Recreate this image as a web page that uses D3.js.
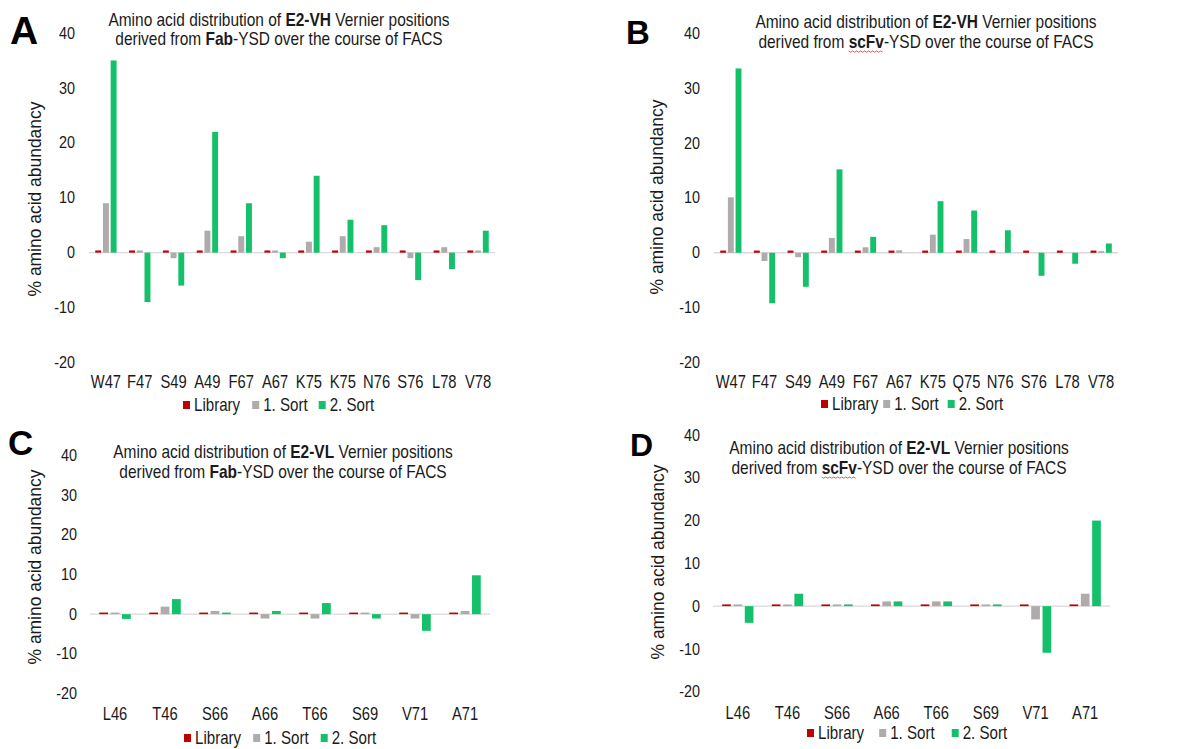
<!DOCTYPE html>
<html>
<head>
<meta charset="utf-8">
<script src="https://d3js.org/d3.v7.min.js"></script>
<style>
  body { margin: 0; background: #fff; }
  text { font-family: "Liberation Sans", Arial, sans-serif; fill: #1a1a1a; }
</style>
</head>
<body>
<script>
// series + colours
var seriesNames = ["Library", "1. Sort", "2. Sort"];
var seriesColors = ["#C00000", "#AFABAB", "#14C16A"];

// categories
var vhFabCats = ["W47", "F47", "S49", "A49", "F67", "A67", "K75", "K75", "N76", "S76", "L78", "V78"];
var vhScfvCats = ["W47", "F47", "S49", "A49", "F67", "A67", "K75", "Q75", "N76", "S76", "L78", "V78"];
var vlCats = ["L46", "T46", "S66", "A66", "T66", "S69", "V71", "A71"];

// y ticks
var yTicks = [-20, -10, 0, 10, 20, 30, 40];

// panel A: E2-VH, Fab-YSD
var vhFabLibrary = [0.4, 0.4, 0.4, 0.4, 0.4, 0.4, 0.4, 0.4, 0.4, 0.4, 0.4, 0.4];
var vhFabSort1 = [9, 0.4, -1, 4, 3, 0.4, 2, 3, 1, -1, 1, 0.4];
var vhFabSort2 = [35, -9, -6, 22, 9, -1, 14, 6, 5, -5, -3, 4];

// panel B: E2-VH, scFv-YSD
var vhScfvLibrary = [0.4, 0.4, 0.4, 0.4, 0.4, 0.4, 0.4, 0.4, 0.4, 0.4, 0.4, 0.4];
var vhScfvSort1 = [10.1, -1.5, -0.8, 2.7, 1.0, 0.45, 3.3, 2.5, 0, 0, 0, 0.3];
var vhScfvSort2 = [33.6, -9.2, -6.2, 15.2, 2.9, 0, 9.4, 7.7, 4.1, -4.2, -2.0, 1.7];

// panel C: E2-VL, Fab-YSD
var vlFabLibrary = [0.4, 0.4, 0.4, 0.4, 0.4, 0.4, 0.4, 0.4];
var vlFabSort1 = [0.4, 1.9, 0.8, -1.1, -1.1, 0.4, -1.1, 0.8];
var vlFabSort2 = [-1.2, 3.8, 0.4, 0.8, 2.8, -1.1, -4.2, 9.8];

// panel D: E2-VL, scFv-YSD
var vlScfvLibrary = [0.4, 0.4, 0.4, 0.4, 0.4, 0.4, 0.4, 0.4];
var vlScfvSort1 = [0.4, 0.4, 0.4, 1.1, 1.1, 0.4, -3.1, 2.9];
var vlScfvSort2 = [-3.9, 2.9, 0.4, 1.1, 1.1, 0.4, -10.9, 20];

var svg = d3.select("body").append("svg")
    .attr("width", 1204)
    .attr("height", 749);

// the source figure uses a narrow face; squeeze text horizontally about its x
var narrow = 0.84;
function squeeze(sel, x, sx) {
  sel.attr("transform", "translate(" + (x * (1 - sx)) + ",0) scale(" + sx + ",1)");
}

// layout of each panel (pixels)
var panels = [
  { letter: "A", letterX: 10, letterY: 44, letterSize: 39,
    chain: "E2-VH", sys: "Fab", squiggle: false,
    cats: vhFabCats, series: [vhFabLibrary, vhFabSort1, vhFabSort2],
    x0: 89, x1: 495, yBottom: 362.5, yTop: 33,
    tickRight: 75, catY: 388, titleX: 279, titleY: 26, titleGap: 19,
    axisTitleX: 41, axisTitleY: 199,
    legendY: 405, legendX: 183, legendGaps: [12, 11] },
  { letter: "B", letterX: 626, letterY: 44, letterSize: 33,
    chain: "E2-VH", sys: "scFv", squiggle: true,
    cats: vhScfvCats, series: [vhScfvLibrary, vhScfvSort1, vhScfvSort2],
    x0: 714, x1: 1118, yBottom: 362.5, yTop: 33.3,
    tickRight: 700, catY: 388, titleX: 926, titleY: 28, titleGap: 20,
    axisTitleX: 663, axisTitleY: 197,
    legendY: 404, legendX: 821, legendGaps: [5, 9] },
  { letter: "C", letterX: 8, letterY: 455, letterSize: 35,
    chain: "E2-VL", sys: "Fab", squiggle: false,
    cats: vlCats, series: [vlFabLibrary, vlFabSort1, vlFabSort2],
    x0: 90, x1: 490, yBottom: 693.5, yTop: 455.5,
    tickRight: 77, catY: 720, titleX: 283, titleY: 458, titleGap: 20,
    axisTitleX: 41, axisTitleY: 567,
    legendY: 738, legendX: 184, legendGaps: [12, 12] },
  { letter: "D", letterX: 630, letterY: 456, letterSize: 32,
    chain: "E2-VL", sys: "scFv", squiggle: true,
    cats: vlCats, series: [vlScfvLibrary, vlScfvSort1, vlScfvSort2],
    x0: 713, x1: 1110, yBottom: 691.7, yTop: 435,
    tickRight: 700, catY: 719, titleX: 899, titleY: 454, titleGap: 20,
    axisTitleX: 664, axisTitleY: 562,
    legendY: 733, legendX: 807, legendGaps: [15, 17] }
];

panels.forEach(drawPanel);

function drawPanel(p) {
  var g = svg.append("g");

  var x = d3.scaleBand().domain(d3.range(p.cats.length)).range([p.x0, p.x1]);
  var y = d3.scaleLinear().domain([-20, 40]).range([p.yBottom, p.yTop]);

  // sub-band for the three series
  var bw = x.bandwidth();
  var barW = bw * 0.175, pitch = bw * 0.228;

  // zero line
  g.append("line")
      .attr("x1", p.x0).attr("x2", p.x1)
      .attr("y1", y(0)).attr("y2", y(0))
      .attr("stroke", "#D9D9D9").attr("stroke-width", 1.3);

  // bars
  p.series.forEach(function (vals, s) {
    g.selectAll(null)
      .data(vals)
      .enter().append("rect")
      .attr("x", function (d, i) { return x(i) + bw / 2 + (s - 1) * pitch - barW / 2; })
      .attr("y", function (d) { return y(Math.max(0, d)); })
      .attr("width", barW)
      .attr("height", function (d) { return Math.abs(y(d) - y(0)); })
      .attr("fill", seriesColors[s]);
  });

  // y tick labels
  g.selectAll(null)
    .data(yTicks)
    .enter().append("text")
    .attr("x", p.tickRight)
    .attr("y", function (d) { return y(d); })
    .attr("dy", "0.35em")
    .attr("text-anchor", "end")
    .style("font-size", "16px")
    .each(function () { squeeze(d3.select(this), p.tickRight, 0.9); })
    .text(function (d) { return d; });

  // category labels
  g.selectAll(null)
    .data(p.cats)
    .enter().append("text")
    .attr("x", function (d, i) { return x(i) + bw / 2; })
    .attr("y", p.catY)
    .attr("text-anchor", "middle")
    .style("font-size", "18px")
    .each(function (d, i) { squeeze(d3.select(this), x(i) + bw / 2, 0.82); })
    .text(function (d) { return d; });

  // y axis title
  g.append("text")
    .attr("transform", "translate(" + p.axisTitleX + "," + p.axisTitleY + ") rotate(-90) scale(0.97,1)")
    .attr("text-anchor", "middle")
    .style("font-size", "18px")
    .text("% amino acid abundancy");

  // panel letter
  g.append("text")
    .attr("x", p.letterX).attr("y", p.letterY)
    .style("font-weight", "bold")
    .style("font-size", p.letterSize + "px")
    .style("fill", "#000")
    .text(p.letter);

  // two-line title
  var t1 = g.append("text")
    .attr("x", p.titleX).attr("y", p.titleY)
    .attr("text-anchor", "middle")
    .style("font-size", "18px");
  squeeze(t1, p.titleX, 0.86);
  t1.append("tspan").text("Amino acid distribution of ");
  t1.append("tspan").style("font-weight", "bold").text(p.chain);
  t1.append("tspan").text(" Vernier positions");

  var t2 = g.append("text")
    .attr("x", p.titleX).attr("y", p.titleY + p.titleGap)
    .attr("text-anchor", "middle")
    .style("font-size", "18px");
  squeeze(t2, p.titleX, 0.86);
  t2.append("tspan").text("derived from ");
  var sysSpan = t2.append("tspan").style("font-weight", "bold").text(p.sys);
  t2.append("tspan").text("-YSD over the course of FACS");

  // red spell-check squiggle under "scFv"
  if (p.squiggle) {
    var node = sysSpan.node();
    var sx = p.titleX * (1 - 0.86) + 0.86 * node.getStartPositionOfChar(0).x;
    var len = node.getComputedTextLength() * 0.86;
    var sy = p.titleY + p.titleGap + 3;
    var pts = d3.range(0, Math.floor(len / 2) + 1).map(function (k) {
      return [sx + k * 2, sy + (k % 2 ? 1.2 : 0)];
    });
    g.append("path")
      .attr("d", d3.line()(pts))
      .attr("fill", "none")
      .attr("stroke", "#E03030")
      .attr("stroke-width", 0.8);
  }

  // legend
  var lx = p.legendX;
  seriesNames.forEach(function (name, s) {
    g.append("rect")
      .attr("x", lx).attr("y", p.legendY - 4)
      .attr("width", 7).attr("height", 8)
      .attr("fill", seriesColors[s]);
    var lt = g.append("text")
      .attr("x", lx + 11).attr("y", p.legendY)
      .attr("dy", "0.35em")
      .style("font-size", "18px")
      .text(name);
    squeeze(lt, lx + 11, narrow);
    lx = lx + 11 + lt.node().getComputedTextLength() * narrow + (p.legendGaps[s] || 0);
  });
}
</script>
</body>
</html>
